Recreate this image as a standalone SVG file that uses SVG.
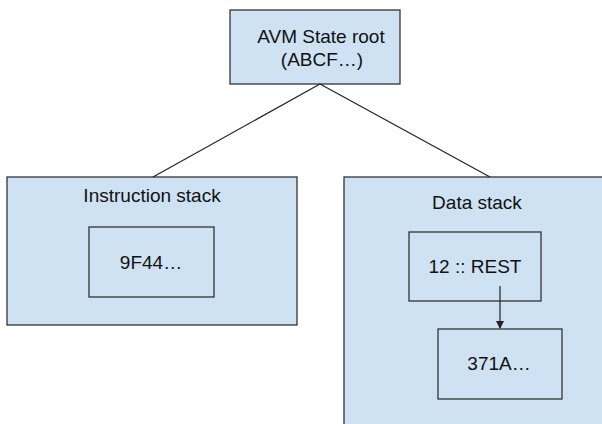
<svg xmlns="http://www.w3.org/2000/svg" width="602" height="424" viewBox="0 0 602 424">
<style>
.box{fill:#cfe2f3;stroke:#333;stroke-width:1.3}
.t{font-family:"Liberation Sans",Arial,sans-serif;font-size:19px;fill:#111;text-anchor:middle}
.c{stroke:#222;stroke-width:1.2;fill:none}
</style>
<defs>
<marker id="ah" markerWidth="8" markerHeight="9" refX="7" refY="4.5" orient="auto" markerUnits="userSpaceOnUse">
<path d="M0,0.5 L8,4.5 L0,8.5 z" fill="#222"/>
</marker>
</defs>
<g id="root">
<rect class="box" x="230" y="10" width="170" height="74"/>
<text class="t" x="321" y="43">AVM State root</text>
<text class="t" x="322" y="66">(ABCF…)</text>
</g>
<g id="instruction-stack">
<rect class="box" x="7" y="177" width="290" height="148"/>
<text class="t" x="152" y="202">Instruction stack</text>
</g>
<g id="instr-9f44">
<rect class="box" x="89" y="227" width="125" height="70"/>
<text class="t" x="151" y="269">9F44…</text>
</g>
<g id="data-stack">
<rect class="box" x="344" y="177" width="270" height="260"/>
<text class="t" x="477" y="209">Data stack</text>
</g>
<g id="data-12-rest">
<rect class="box" x="409" y="232" width="132" height="69"/>
<text class="t" x="475" y="273">12 :: REST</text>
</g>
<g id="data-371a">
<rect class="box" x="438" y="329" width="124" height="70"/>
<text class="t" x="499" y="370">371A…</text>
</g>
<g id="connectors">
<line class="c" x1="320" y1="84" x2="153" y2="177"/>
<line class="c" x1="320" y1="84" x2="490" y2="177"/>
<line class="c" x1="500" y1="286" x2="500" y2="328" marker-end="url(#ah)"/>
</g>
</svg>
